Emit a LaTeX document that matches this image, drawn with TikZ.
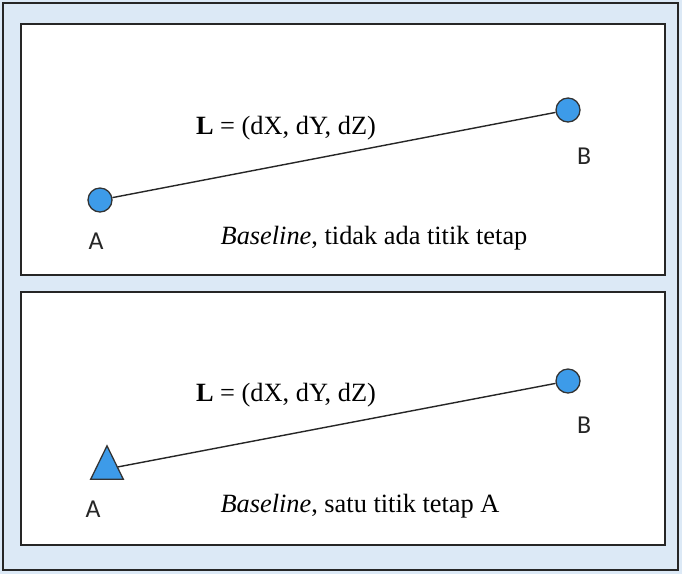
\documentclass[tikz,border=0pt]{standalone}
\usepackage{fontspec}
\setmainfont{Liberation Serif}
\newfontfamily\ptfont{Carlito}
\usetikzlibrary{positioning,shapes.geometric}
\definecolor{framebg}{HTML}{DCE9F6}
\definecolor{ptblue}{HTML}{3D9BE9}

\begin{document}
\begin{tikzpicture}[
    x=0.03cm,y=-0.03cm,
    font=\fontsize{22.5}{26}\selectfont,
    panel/.style={draw=black!85,line width=1.4pt,fill=white},
    station/.style={circle,draw=black!80,line width=1.1pt,fill=ptblue,minimum size=0.72cm,inner sep=0pt},
    fixed/.style={isosceles triangle,isosceles triangle apex angle=52,shape border rotate=90,draw=black!80,line width=1.1pt,fill=ptblue,minimum height=1cm,inner sep=0pt},
    ptlabel/.style={font=\ptfont\fontsize{22}{26}\selectfont,text=black!85},
    baseline/.style={line width=1.2pt,black!85}
  ]
    \useasboundingbox (0,0) rectangle (682,574);
    \fill[framebg] (0,0) rectangle (682,574);
    \draw[line width=1.2pt,black!85] (3,3) rectangle (678,570);

    % top panel: no fixed point
    \draw[panel] (21,24) rectangle (665,275);
    \node[station] (a1) at (100,200) {};
    \node[station] (b1) at (568,110) {};
    \draw[baseline] (a1) -- (b1);
    \node[ptlabel] (la1) at (96,241) {A};
    \node[ptlabel] (lb1) at (584,156) {B};
    \node (vec1) at (286,128) {$\mathbf{L}$ = (dX, dY, dZ)};
    \node (cap1) at (374,238) {\textit{Baseline}, tidak ada titik tetap};

    % bottom panel: A held fixed
    \draw[panel] (21,292) rectangle (665,545);
    \node[fixed] (a2) at (107,469) {};
    \node[station] (b2) at (568,381) {};
    \draw[baseline] (a2) -- (b2);
    \node[ptlabel] (la2) at (93,509) {A};
    \node[ptlabel] (lb2) at (584,425) {B};
    \node (vec2) at (286,395) {$\mathbf{L}$ = (dX, dY, dZ)};
    \node (cap2) at (360,506) {\textit{Baseline}, satu titik tetap A};
  \end{tikzpicture}
\end{document}
